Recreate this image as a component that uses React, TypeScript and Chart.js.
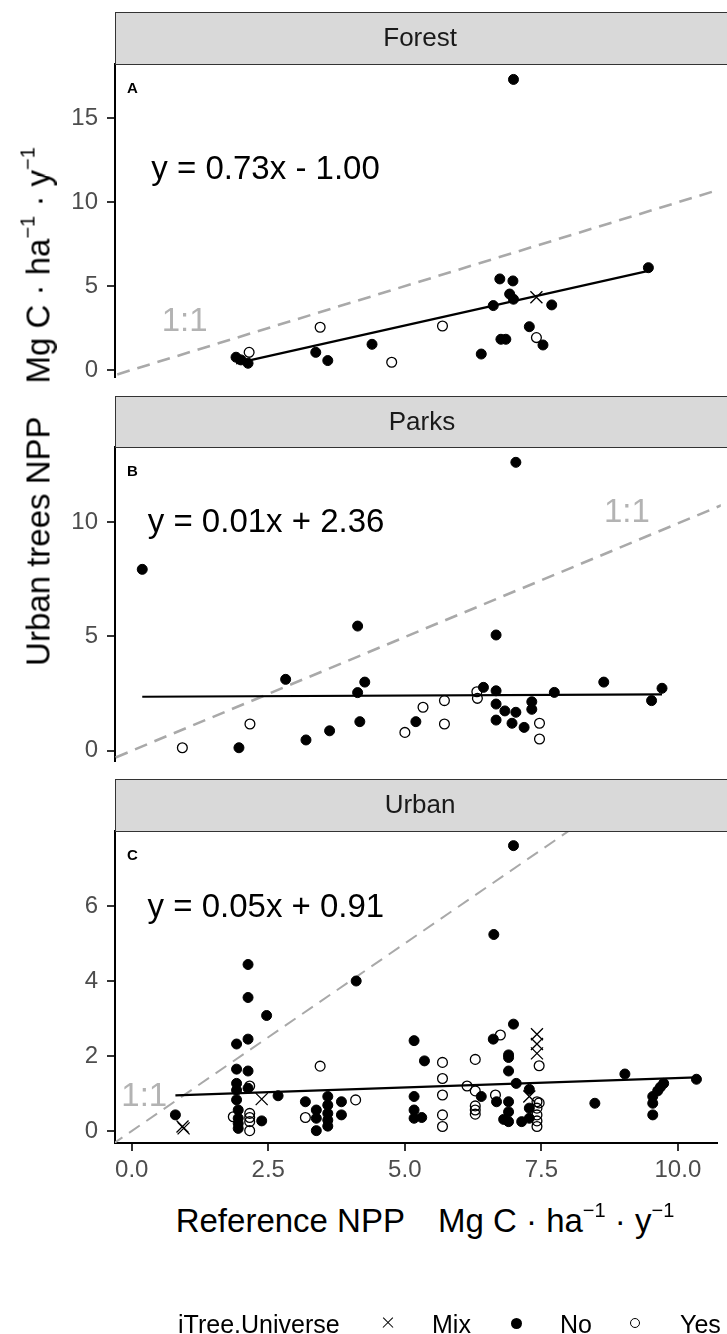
import React, { useEffect, useRef } from "react";
import { Chart, registerables } from "chart.js";

Chart.register(...registerables);

const FONT = '"Liberation Sans", Arial, Helvetica, sans-serif';

// ---------------- data ----------------
const facetLabels = ["Forest", "Parks", "Urban"];
const panelLetters = ["A", "B", "C"];
const equations = ["y = 0.73x - 1.00", "y = 0.01x + 2.36", "y = 0.05x + 0.91"];
const xTicks = [0, 2.5, 5, 7.5, 10];
const yTicksForest = [0, 5, 10, 15];
const yTicksParks = [0, 5, 10];
const yTicksUrban = [0, 2, 4, 6];
const legendLabels = ["Mix", "No", "Yes"];

const forestNo = [
  [6.99, 17.33], [9.46, 6.1], [6.74, 5.43], [6.98, 5.31], [6.92, 4.53], [6.99, 4.22],
  [7.69, 3.88], [6.62, 3.84], [7.28, 2.58], [6.76, 1.83], [6.85, 1.83], [7.53, 1.49],
  [6.4, 0.95], [4.4, 1.53], [3.37, 1.05], [3.59, 0.56], [1.91, 0.76], [2.0, 0.6], [2.13, 0.4],
];
const forestYes = [[7.41, 1.93], [5.69, 2.62], [3.45, 2.55], [4.76, 0.46], [2.15, 1.05]];
const forestMix = [[7.41, 4.34]];
const forestFit = [[1.91, 0.39], [9.46, 5.91]];

const parksNo = [
  [6.99, 12.61], [0.19, 7.93], [4.11, 5.45], [6.63, 5.06], [2.8, 3.12], [4.24, 3.0],
  [4.11, 2.54], [6.4, 2.77], [6.63, 2.62], [7.69, 2.55], [8.59, 3.0], [9.65, 2.73],
  [9.46, 2.19], [6.63, 2.04], [6.79, 1.74], [6.99, 1.68], [7.28, 2.14], [7.28, 1.81],
  [6.63, 1.34], [6.92, 1.2], [7.14, 1.02], [5.17, 1.27], [4.15, 1.27], [3.6, 0.87],
  [3.17, 0.47], [1.95, 0.13],
];
const parksYes = [
  [6.28, 2.58], [6.29, 2.29], [5.69, 2.19], [5.3, 1.9], [7.42, 1.2], [7.42, 0.51],
  [5.69, 1.17], [4.97, 0.8], [2.15, 1.17], [0.92, 0.13],
];
const parksMix: number[][] = [];
const parksFit = [[0.19, 2.36], [9.65, 2.46]];

const urbanNo = [
  [6.99, 7.61], [6.63, 5.24], [2.13, 4.44], [2.13, 3.56], [4.11, 4.0], [2.47, 3.08],
  [6.99, 2.85], [2.13, 2.45], [1.92, 2.32], [5.17, 2.41], [6.62, 2.45], [5.36, 1.87],
  [6.9, 2.03], [6.9, 1.96], [6.9, 1.6], [7.04, 1.27], [9.03, 1.52], [8.48, 0.74],
  [10.34, 1.38], [9.74, 1.27], [9.68, 1.17], [9.63, 1.07], [9.54, 0.92], [9.54, 0.74],
  [9.54, 0.43], [5.17, 0.92], [5.17, 0.56], [5.17, 0.34], [5.31, 0.36], [6.4, 0.92],
  [6.68, 0.78], [6.9, 0.78], [7.28, 1.11], [6.9, 0.51], [6.81, 0.31], [6.9, 0.25],
  [7.14, 0.25], [7.28, 0.61], [7.28, 0.34], [0.8, 0.43], [1.92, 1.65], [2.13, 1.6],
  [1.92, 1.27], [2.13, 1.14], [1.92, 1.09], [1.92, 0.83], [2.68, 0.94], [1.95, 0.56],
  [1.95, 0.34], [1.95, 0.2], [1.95, 0.07], [2.38, 0.27], [3.18, 0.78], [3.38, 0.56],
  [3.38, 0.34], [3.38, 0.01], [3.59, 0.92], [3.59, 0.69], [3.59, 0.47], [3.59, 0.29],
  [3.59, 0.13], [3.84, 0.78], [3.84, 0.43],
];
const urbanYes = [
  [6.75, 2.56], [5.69, 1.83], [5.69, 1.4], [5.69, 0.96], [5.69, 0.43], [5.69, 0.12],
  [6.29, 1.91], [6.14, 1.2], [6.29, 1.07], [6.29, 0.67], [6.29, 0.56], [6.29, 0.45],
  [6.66, 0.96], [7.46, 1.74], [7.42, 0.78], [7.42, 0.61], [7.42, 0.43], [7.42, 0.27],
  [7.42, 0.12], [7.46, 0.75], [3.45, 1.73], [4.1, 0.83], [3.18, 0.36], [1.86, 0.38],
  [2.16, 1.2], [2.16, 0.47], [2.16, 0.36], [2.16, 0.25], [2.16, 0.01],
];
const urbanMix = [[7.42, 2.58], [7.42, 2.32], [7.42, 2.07], [7.28, 0.92], [2.38, 0.85], [0.93, 0.12], [0.95, 0.07]];
const urbanFit = [[0.8, 0.95], [10.34, 1.43]];

const identityLine = [-1, 20];

// annotation anchor points (data units)
const equationAnchors = [[0.36, 11.93], [0.29, 9.96], [0.29, 5.95]];
const oneToOneAnchors = [[0.97, 2.86], [9.01, 10.39], [0.23, 0.91]];

// ---------------- layout ----------------
const W = 727;
const X_RANGE = [-0.306, 10.72];
const STRIP_CENTER_X = 5.28;
const X_AXIS_HEIGHT = 57;

type Panel = {
  idx: number; top: number; height: number; padTop: number; padBottom: number;
  yMin: number; yMax: number; yTicks: number[]; no: number[][]; yes: number[][];
  mix: number[][]; fit: number[][]; showX: boolean; dashWidth: number;
};

const panels: Panel[] = [
  { idx: 0, top: 12, height: 375, padTop: 52, padBottom: 10, yMin: -0.42, yMax: 18.25,
    yTicks: yTicksForest, no: forestNo, yes: forestYes, mix: forestMix, fit: forestFit, showX: false, dashWidth: 2.6 },
  { idx: 1, top: 396, height: 375, padTop: 51, padBottom: 10, yMin: -0.45, yMax: 13.28,
    yTicks: yTicksParks, no: parksNo, yes: parksYes, mix: parksMix, fit: parksFit, showX: false, dashWidth: 2.6 },
  { idx: 2, top: 779, height: 421, padTop: 52, padBottom: 0, yMin: -0.32, yMax: 8.0,
    yTicks: yTicksUrban, no: urbanNo, yes: urbanYes, mix: urbanMix, fit: urbanFit, showX: true, dashWidth: 2 },
];

const toPts = (arr: number[][]) => arr.map(([x, y]) => ({ x, y }));

const facetPlugin = {
  id: "facet",
  afterDatasetsDraw(chart: any, _args: any, opts: any) {
    const { ctx, chartArea: a, scales } = chart;
    const i = opts.idx;
    ctx.save();
    ctx.fillStyle = "#000";
    ctx.font = `bold 15px ${FONT}`;
    ctx.textAlign = "left";
    ctx.textBaseline = "middle";
    ctx.fillText(panelLetters[i], a.left + 12, a.top + 25);
    ctx.font = `33px ${FONT}`;
    ctx.fillText(equations[i], scales.x.getPixelForValue(equationAnchors[i][0]), scales.y.getPixelForValue(equationAnchors[i][1]));
    ctx.fillStyle = "#B3B3B3";
    ctx.textAlign = "center";
    ctx.fillText("1:1", scales.x.getPixelForValue(oneToOneAnchors[i][0]), scales.y.getPixelForValue(oneToOneAnchors[i][1]));
    ctx.restore();
  },
  afterDraw(chart: any, _args: any, opts: any) {
    const { ctx, chartArea: a, scales } = chart;
    const h = opts.stripHeight;
    ctx.save();
    ctx.fillStyle = "#D9D9D9";
    ctx.fillRect(a.left, a.top - h, chart.width - a.left + 2, h);
    ctx.strokeStyle = "#333333";
    ctx.lineWidth = 1;
    ctx.strokeRect(a.left + 0.5, a.top - h + 0.5, chart.width - a.left + 4, h);
    ctx.fillStyle = "#1A1A1A";
    ctx.font = `26px ${FONT}`;
    ctx.textAlign = "center";
    ctx.textBaseline = "middle";
    ctx.fillText(facetLabels[opts.idx], scales.x.getPixelForValue(STRIP_CENTER_X), a.top - h / 2 + 1);
    ctx.restore();
  },
};

function buildConfig(p: Panel): any {
  const axisGrid = { drawOnChartArea: false, drawTicks: true, tickLength: 8, color: "#333333", lineWidth: 2 };
  const axisBorder = { display: true, color: "#000000", width: 2 };
  return {
    type: "scatter",
    data: {
      datasets: [
        { label: legendLabels[0], data: toPts(p.mix), pointStyle: "crossRot", pointRadius: 8.5,
          borderColor: "#000", backgroundColor: "#000", borderWidth: 1.3, order: 0 },
        { label: legendLabels[1], data: toPts(p.no), pointStyle: "circle", pointRadius: 5,
          borderColor: "#000", backgroundColor: "#000", borderWidth: 1, order: 0 },
        { label: legendLabels[2], data: toPts(p.yes), pointStyle: "circle", pointRadius: 4.9,
          borderColor: "#000", backgroundColor: "rgba(0,0,0,0)", borderWidth: 1.3, order: 0 },
        { type: "line", label: "fit", data: toPts(p.fit), borderColor: "#000", borderWidth: 2.2,
          pointRadius: 0, showLine: true, fill: false, order: 1, clip: 0 },
        { type: "line", label: "1:1", data: identityLine.map((v) => ({ x: v, y: v })), borderColor: "#A9A9A9",
          borderWidth: p.dashWidth, borderDash: [13, 8], pointRadius: 0, showLine: true, fill: false, order: 2, clip: 0 },
      ],
    },
    options: {
      responsive: false,
      animation: false,
      devicePixelRatio: 1,
      events: [],
      layout: { padding: { top: p.padTop, bottom: p.padBottom, left: 0, right: 0 } },
      plugins: {
        legend: { display: false },
        tooltip: { enabled: false },
        facet: { idx: p.idx, stripHeight: p.padTop },
      },
      scales: {
        x: {
          type: "linear",
          min: X_RANGE[0],
          max: X_RANGE[1],
          display: p.showX,
          afterBuildTicks: (s: any) => { s.ticks = xTicks.map((v) => ({ value: v })); },
          afterFit: (s: any) => {
            s.height = p.showX ? X_AXIS_HEIGHT : 0;
            s.paddingLeft = 0;
            s.paddingRight = 0;
          },
          ticks: { callback: (v: any) => Number(v).toFixed(1), color: "#4D4D4D", font: { size: 24, family: FONT },
            padding: 5, maxRotation: 0, autoSkip: false },
          grid: axisGrid,
          border: axisBorder,
        },
        y: {
          type: "linear",
          min: p.yMin,
          max: p.yMax,
          afterBuildTicks: (s: any) => { s.ticks = p.yTicks.map((v) => ({ value: v })); },
          afterFit: (s: any) => { s.width = 115; s.paddingTop = 0; s.paddingBottom = 0; },
          ticks: { callback: (v: any) => String(v), color: "#4D4D4D", font: { size: 24, family: FONT },
            padding: 9, autoSkip: false },
          grid: axisGrid,
          border: axisBorder,
        },
      },
    },
    plugins: [facetPlugin],
  };
}

function PanelChart({ p }: { p: Panel }) {
  const ref = useRef<HTMLCanvasElement | null>(null);
  useEffect(() => {
    const chart = new Chart(ref.current as HTMLCanvasElement, buildConfig(p));
    return () => chart.destroy();
  }, [p]);
  return (
    <canvas
      ref={ref}
      width={W}
      height={p.height}
      style={{ position: "absolute", left: 0, top: p.top, width: W, height: p.height }}
    />
  );
}

const Sup = ({ children }: { children: React.ReactNode }) => (
  <span style={{ fontSize: 20, position: "relative", top: -15 }}>{children}</span>
);

const UnitText = () => (
  <>
    Mg C · ha<Sup>−1</Sup> · y<Sup>−1</Sup>
  </>
);

export default function App() {
  return (
    <div
      style={{
        position: "absolute", left: 0, top: 0, width: W, height: 1334, overflow: "hidden",
        background: "#fff", fontFamily: FONT, color: "#000",
      }}
    >
      {panels.map((p) => (
        <PanelChart key={p.idx} p={p} />
      ))}

      {/* y axis title */}
      <div
        style={{
          position: "absolute", left: 38 - 280, top: 406 - 16.5, width: 560, height: 33,
          lineHeight: "33px", fontSize: 33, textAlign: "center", whiteSpace: "nowrap",
          transform: "rotate(-90deg)",
        }}
      >
        Urban trees NPP{"\u2002\u2002"}<UnitText />
      </div>

      {/* x axis title */}
      <div
        style={{
          position: "absolute", left: 425 - 300, top: 1204, width: 600, height: 33,
          lineHeight: "33px", fontSize: 33, textAlign: "center", whiteSpace: "nowrap",
        }}
      >
        Reference NPP{"\u2002\u2002"}<UnitText />
      </div>

      {/* legend */}
      <div style={{ position: "absolute", left: 0, top: 0, width: W, height: 1334, fontSize: 25, lineHeight: "25px" }}>
        <span style={{ position: "absolute", left: 178, top: 1312, whiteSpace: "nowrap" }}>iTree.Universe</span>
        <div style={{ position: "absolute", left: 388 - 7, top: 1323 - 0.65, width: 14, height: 1.3, background: "#000", transform: "rotate(45deg)" }} />
        <div style={{ position: "absolute", left: 388 - 7, top: 1323 - 0.65, width: 14, height: 1.3, background: "#000", transform: "rotate(-45deg)" }} />
        <span style={{ position: "absolute", left: 432, top: 1312 }}>{legendLabels[0]}</span>
        <div style={{ position: "absolute", left: 516 - 5.5, top: 1323 - 5.5, width: 11, height: 11, borderRadius: "50%", background: "#000" }} />
        <span style={{ position: "absolute", left: 560, top: 1312 }}>{legendLabels[1]}</span>
        <div style={{ position: "absolute", left: 635 - 5, top: 1323 - 5, width: 10, height: 10, borderRadius: "50%", border: "1.3px solid #000", boxSizing: "border-box" }} />
        <span style={{ position: "absolute", left: 680, top: 1312 }}>{legendLabels[2]}</span>
      </div>
    </div>
  );
}
